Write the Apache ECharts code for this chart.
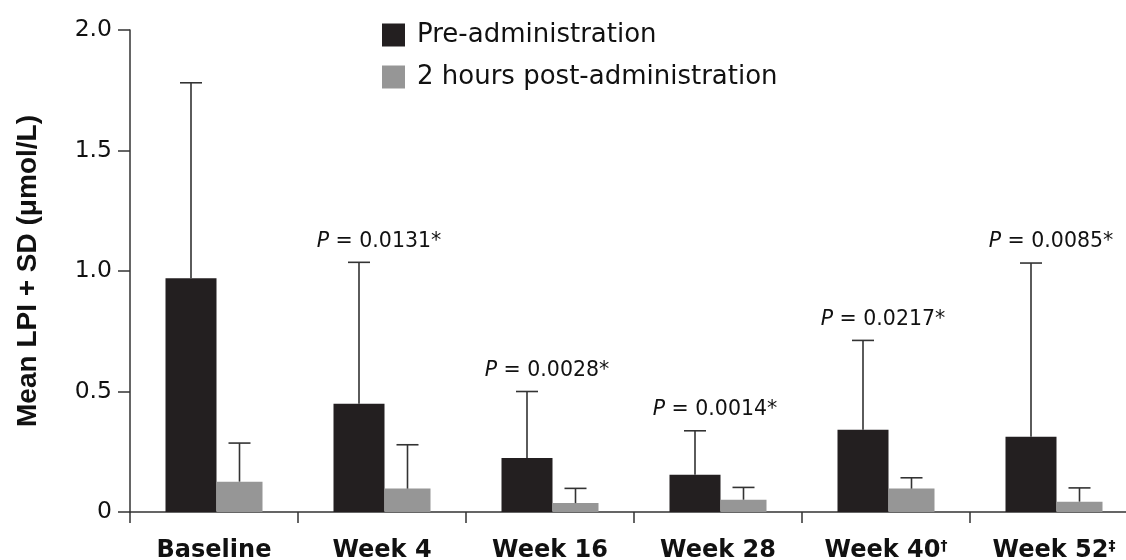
<!DOCTYPE html>
<html><head><meta charset="utf-8">
<script src="https://cdn.jsdelivr.net/npm/echarts@6/dist/echarts.min.js"></script>
<style>html,body{margin:0;padding:0;background:#fff}#c{width:1126px;height:560px}</style>
</head><body><div id="c"></div>
<script>
// ---- data ----
const categories = ['Baseline', 'Week 4', 'Week 16', 'Week 28', 'Week 40', 'Week 52'];
const categoryMarks = ['', '', '', '', '†', '‡'];
const preMean = [0.970, 0.449, 0.224, 0.155, 0.341, 0.312];
const preSD   = [0.811, 0.587, 0.276, 0.182, 0.371, 0.721];
const postMean = [0.126, 0.097, 0.037, 0.051, 0.097, 0.043];
const postSD   = [0.160, 0.182, 0.061, 0.051, 0.045, 0.057];
const pValues = ['', '0.0131*', '0.0028*', '0.0014*', '0.0217*', '0.0085*'];
const seriesNames = ['Pre-administration', '2 hours post-administration'];
const yTickLabels = { '0': '0', '0.5': '0.5', '1': '1.0', '1.5': '1.5', '2': '2.0' };

// ---- styles ----
const BLACK = '#231f20', GRAY = '#969696', INK = '#111', AX = '#333';
const blackW = 51, grayW = 46, capW = 22;
const FONT = 'DejaVu Sans';

function errSeries(name, means, sds, offset, withP) {
  return {
    type: 'custom', name: name + ' SD', silent: true, z: 5,
    data: means.map((m, i) => [i, m, m + sds[i]]),
    encode: { x: 0, y: [1, 2] },
    renderItem(params, api) {
      const i = api.value(0);
      const base = api.coord([i, api.value(1)]);
      const top = api.coord([i, api.value(2)]);
      const x = base[0] + offset;
      const st = { stroke: AX, lineWidth: 1.6 };
      const children = [
        { type: 'line', shape: { x1: x, y1: base[1], x2: x, y2: top[1] }, style: st },
        { type: 'line', shape: { x1: x - capW / 2, y1: top[1], x2: x + capW / 2, y2: top[1] }, style: st }
      ];
      if (withP && pValues[i]) {
        children.push({
          type: 'text', x: base[0] - 3, y: top[1] - 21,
          style: {
            text: '{i|P} = ' + pValues[i],
            fontFamily: FONT, fontSize: 20.5, fill: INK,
            align: 'center', verticalAlign: 'middle',
            rich: { i: { fontStyle: 'italic', fontFamily: FONT, fontSize: 20.5, fill: INK } }
          }
        });
      }
      return { type: 'group', children };
    }
  };
}

const chart = echarts.init(document.getElementById('c'), null, { renderer: 'canvas' });
chart.setOption({
  animation: false,
  backgroundColor: '#fff',
  grid: { left: 130, width: 1008, top: 30, bottom: 48, containLabel: false, outerBoundsMode: 'none' },
  legend: {
    data: seriesNames, orient: 'vertical', left: 382, top: 22, padding: 0,
    itemWidth: 23, itemHeight: 23, itemGap: 16, icon: 'rect',
    textStyle: { fontFamily: FONT, fontSize: 26, color: INK, padding: [0, 0, 0, 7] }
  },
  xAxis: {
    type: 'category', data: categories, boundaryGap: true,
    axisLine: { show: true, lineStyle: { color: AX, width: 1.5 } },
    axisTick: { show: true, length: 11, lineStyle: { color: AX, width: 1.5 } },
    axisLabel: {
      margin: 27, interval: 0,
      formatter: (v, i) => categoryMarks[i] ? `{b|${v}}{s|${categoryMarks[i]}}` : `{b|${v}}`,
      rich: {
        b: { fontFamily: FONT, fontWeight: 'bold', fontSize: 24, color: INK },
        s: { fontFamily: FONT, fontWeight: 'bold', fontSize: 14, color: INK, verticalAlign: 'top' }
      }
    }
  },
  yAxis: {
    type: 'value', min: 0, max: 2, interval: 0.5,
    name: 'Mean LPI + SD (μmol/L)', nameLocation: 'middle', nameGap: 88,
    nameTextStyle: { fontFamily: 'Liberation Sans', fontWeight: 'bold', fontSize: 28, color: INK },
    axisLine: { show: true, lineStyle: { color: AX, width: 1.5 } },
    axisTick: { show: true, length: 12, lineStyle: { color: AX, width: 1.5 } },
    splitLine: { show: false },
    axisLabel: {
      margin: 18, fontFamily: FONT, fontSize: 23.5, color: INK,
      formatter: v => yTickLabels[String(v)] ?? String(v)
    }
  },
  series: [
    { type: 'bar', name: seriesNames[0], data: preMean, barWidth: blackW, barGap: '0%',
      itemStyle: { color: BLACK }, z: 2 },
    { type: 'bar', name: seriesNames[1], data: postMean, barWidth: grayW, barGap: '0%',
      itemStyle: { color: GRAY }, z: 2 },
    errSeries(seriesNames[0], preMean, preSD, -grayW / 2, true),
    errSeries(seriesNames[1], postMean, postSD, blackW / 2, false)
  ]
});
</script></body></html>
